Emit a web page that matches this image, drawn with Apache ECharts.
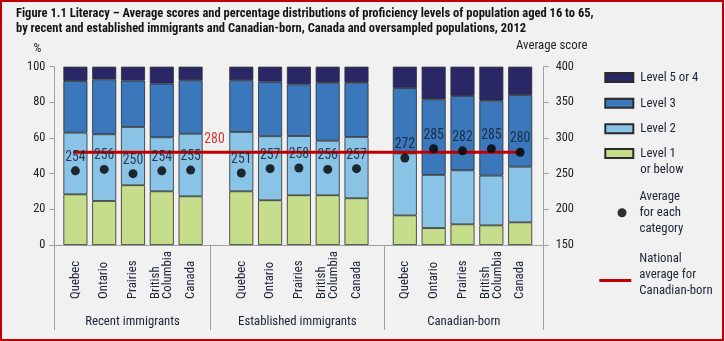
<!DOCTYPE html>
<html>
<head>
<meta charset="utf-8">
<script src="https://cdn.jsdelivr.net/npm/echarts@6/dist/echarts.min.js"></script>
<style>
  html, body { margin: 0; padding: 0; background: #f1f1f1; }
  #chart { position: absolute; left: 0; top: 0; width: 725px; height: 341px; }
  #frame { position: absolute; left: 0; top: 0; width: 720px; height: 337px; border: 2px solid #c00000; pointer-events: none; }
</style>
</head>
<body>
<div id="chart"></div>
<div id="frame"></div>
<script>
// ---------------- DATA ----------------
const titleLines = [
  'Figure 1.1 Literacy \u2013 Average scores and percentage distributions of proficiency levels of population aged 16 to 65,',
  'by recent and established immigrants and Canadian-born, Canada and oversampled populations, 2012'
];
const groups = ['Recent immigrants', 'Established immigrants', 'Canadian-born'];
const categories = ['Quebec', 'Ontario', 'Prairies', 'British\nColumbia', 'Canada'];
const levelNames = ['Level 1 or below', 'Level 2', 'Level 3', 'Level 5 or 4'];

// percentages per group (Recent, Established, Canadian-born), per category
const level1 = [
  [28.4, 24.7, 33.5, 30.1, 27.3],
  [30.1, 25.1, 27.9, 27.9, 26.2],
  [16.6, 9.5, 11.6, 11.0, 12.7]
];
const level2 = [
  [34.6, 37.4, 32.7, 30.3, 35.1],
  [33.3, 35.9, 33.2, 30.6, 34.4],
  [34.8, 29.8, 30.3, 27.9, 31.2]
];
const level3 = [
  [29.0, 30.8, 26.0, 30.1, 30.0],
  [29.0, 30.6, 29.0, 32.5, 30.4],
  [36.6, 42.4, 41.7, 42.0, 40.2]
];
const level45 = [
  [8.0, 7.1, 7.8, 9.5, 7.6],
  [7.6, 8.4, 9.9, 9.0, 9.0],
  [12.0, 18.3, 16.4, 19.1, 15.9]
];
const avgScores = [
  [254, 256, 250, 254, 255],
  [251, 257, 258, 256, 257],
  [272, 285, 282, 285, 280]
];
const nationalAvg = 280;
const avgName = 'Average for each category';
const natName = 'National average for Canadian-born';

// ---------------- FONT PICK ----------------
const ctx = document.createElement('canvas').getContext('2d');
function textW(font, s) { ctx.font = font; return ctx.measureText(s).width; }
function pickFamily() {
  const cands = ["'Liberation Sans Narrow'", "'DejaVu Sans Condensed'", "'Noto Sans Condensed'",
    "'Roboto Condensed'", "'Open Sans Condensed'", "'Nimbus Sans Narrow'", "'Arial Narrow'"];
  const ref = textW("13px 'Liberation Sans'", 'Level 5 or 4 Average score');
  for (const f of cands) {
    const a = textW('13px ' + f + ', monospace', 'Level 5 or 4 Average score');
    const b = textW('13px ' + f + ', serif', 'Level 5 or 4 Average score');
    if (Math.abs(a - b) < 0.5 && a < ref * 0.93) return f + ", 'Liberation Sans', sans-serif";
  }
  return "'Liberation Sans', Arial, sans-serif";
}
const FONT = pickFamily();
// scale so that "Level 5 or 4" is about 56px wide (as in the reference)
const SC = Math.min(1, 56 / textW('13px ' + FONT, 'Level 5 or 4'));
const fs = n => +(n * SC).toFixed(2);
const TITLE_FS = +Math.min(13, 13 * 578 / textW('bold 13px ' + FONT, titleLines[0])).toFixed(2);

// ---------------- STYLE / LAYOUT ----------------
const colors = ['#c6dd8b', '#89c3e6', '#3b77bb', '#2a2766'];
const PLOT_TOP = 66.7, PLOT_H = 178.3;
const labelGrids = [
  { left: 54.3, width: 156.4 },
  { left: 210.7, width: 173.3 },
  { left: 384.0, width: 159.7 }
];
const barGrids = [
  { left: 61.0, width: 144.0 },
  { left: 226.9, width: 144.0 },
  { left: 390.4, width: 144.2 }
];
const overlayGrid = { left: 73.5, width: 447 };
const axisGray = '#a0a0a0';
const textCol = '#1c2333';

const chart = echarts.init(document.getElementById('chart'), null, { renderer: 'canvas' });

const grid = [], xAxis = [], yAxis = [], series = [];

// label (frame) grids 0..2
labelGrids.forEach((g, i) => {
  grid.push({ left: g.left, width: g.width, top: PLOT_TOP, height: PLOT_H });
  xAxis.push({
    type: 'category', gridIndex: i, data: [groups[i]],
    axisLine: { show: true, lineStyle: { color: axisGray, width: 1 } },
    axisTick: { show: true, length: 85, lineStyle: { color: axisGray, width: 1 } },
    axisLabel: { margin: 70, fontFamily: FONT, fontSize: fs(13.5), color: textCol },
    splitLine: { show: false }
  });
});
yAxis.push({
  type: 'value', gridIndex: 0, min: 0, max: 100, interval: 20, position: 'left',
  name: '%', nameLocation: 'end', nameGap: 12,
  nameTextStyle: { fontFamily: FONT, fontSize: fs(13), color: '#222', align: 'right', padding: [0, 13, 0, 0] },
  axisLine: { show: true, lineStyle: { color: axisGray } },
  axisTick: { show: true, length: 5, lineStyle: { color: axisGray } },
  axisLabel: { margin: 9, fontFamily: FONT, fontSize: fs(13), color: '#222' },
  splitLine: { show: false }
});
yAxis.push({
  type: 'value', gridIndex: 2, min: 150, max: 400, interval: 50, position: 'right',
  name: 'Average score', nameLocation: 'end', nameGap: 14,
  nameTextStyle: { fontFamily: FONT, fontSize: fs(13.5), color: '#222', align: 'center', padding: [0, 0, 0, 16] },
  axisLine: { show: true, lineStyle: { color: axisGray } },
  axisTick: { show: true, length: 5, lineStyle: { color: axisGray } },
  axisLabel: { margin: 12, fontFamily: FONT, fontSize: fs(13), color: '#222' },
  splitLine: { show: false }
});
yAxis.push({ type: 'value', gridIndex: 1, min: 0, max: 100, show: false });

// bar grids 3..5
barGrids.forEach((g, i) => {
  const gi = 3 + i;
  grid.push({ left: g.left, width: g.width, top: PLOT_TOP, height: PLOT_H });
  xAxis.push({
    type: 'category', gridIndex: gi, data: categories,
    axisLine: { show: false }, axisTick: { show: false },
    axisLabel: { interval: 0, rotate: 90, align: 'left', margin: 54, fontFamily: FONT, fontSize: fs(13.5), color: textCol, lineHeight: 12 }
  });
  const pctIdx = yAxis.length;
  yAxis.push({ type: 'value', gridIndex: gi, min: 0, max: 100, show: false });
  const scoreIdx = yAxis.length;
  yAxis.push({ type: 'value', gridIndex: gi, min: 150, max: 400, show: false });

  const levels = [level1[i], level2[i], level3[i], level45[i]];
  levels.forEach((vals, li) => {
    series.push({
      name: levelNames[li], type: 'bar', stack: 'g' + i,
      xAxisIndex: gi, yAxisIndex: pctIdx, data: vals, barWidth: 24,
      itemStyle: { color: colors[li], borderColor: '#2b2b2b', borderWidth: 0.8 },
      emphasis: { disabled: true }, z: 2
    });
  });
  series.push({
    name: avgName, type: 'scatter', xAxisIndex: gi, yAxisIndex: scoreIdx,
    data: avgScores[i], symbol: 'circle', symbolSize: 9,
    itemStyle: { color: '#000' }, z: 5,
    label: { show: true, position: 'top', distance: 2, formatter: p => p.value,
      fontFamily: FONT, fontSize: fs(14.5), color: '#141a2a' },
    emphasis: { disabled: true }
  });
});

// overlay grid for national average line (6)
grid.push({ left: overlayGrid.left, width: overlayGrid.width, top: PLOT_TOP, height: PLOT_H });
xAxis.push({ type: 'category', gridIndex: 6, data: ['start', 'end'], boundaryGap: false, show: false });
const natY = yAxis.length;
yAxis.push({ type: 'value', gridIndex: 6, min: 150, max: 400, show: false });
series.push({
  name: natName, type: 'line', xAxisIndex: 6, yAxisIndex: natY,
  data: [
    { value: nationalAvg, label: { show: true, position: 'top', distance: 5, offset: [141, 0],
      formatter: p => p.value, fontFamily: FONT, fontSize: fs(14.5), color: '#d03636' } },
    { value: nationalAvg }
  ],
  symbol: 'circle', symbolSize: 1, showSymbol: true,
  lineStyle: { color: '#c00000', width: 3 }, itemStyle: { color: '#c00000' },
  z: 4, emphasis: { disabled: true }
});

// legends
const legText = {
  fontFamily: FONT, fontSize: fs(13.5), color: textCol, lineHeight: 16,
  rich: {
    t: { fontFamily: FONT, fontSize: fs(13.5), color: textCol, lineHeight: 16 },
    s16: { fontSize: 4, lineHeight: 16 },
    s11: { fontSize: 4, lineHeight: 11 }
  }
};
function leg(name, label, left, top, w, h, icon, padLeft) {
  return {
    data: [{ name: name, icon: icon }], left: left, top: top, padding: 0,
    itemWidth: w, itemHeight: h, selectedMode: false,
    formatter: () => label,
    textStyle: Object.assign({}, legText, { padding: [0, 0, 0, padLeft] })
  };
}
const legend = [
  leg('Level 5 or 4', '{t|Level 5 or 4}', 604.3, 69.5, 28, 9, 'rect', 2),
  leg('Level 3', '{t|Level 3}', 604.3, 95.3, 28, 9, 'rect', 2),
  leg('Level 2', '{t|Level 2}', 604.3, 120.8, 28, 9, 'rect', 2),
  leg('Level 1 or below', '{s16| }\n{t|Level 1}\n{t|or below}', 604.3, 129.5, 28, 9, 'rect', 2),
  leg(avgName, '{t|Average}\n{t|for each}\n{t|category}', 617.5, 188.7, 9, 9, 'circle', 8),
  leg(natName, '{t|National}\n{t|average for}\n{t|Canadian-born}\n{s11| }', 599.3, 251, 32, 3, 'rect', 3)
];

chart.setOption({
  backgroundColor: '#f1f1f1',
  animation: false,
  title: {
    text: titleLines.join('\n'), left: 16, top: 6, padding: 0,
    textStyle: { fontFamily: FONT, fontSize: TITLE_FS, fontWeight: 'bold', color: '#141414', lineHeight: 15.5 }
  },
  legend: legend,
  grid: grid,
  xAxis: xAxis,
  yAxis: yAxis,
  series: series
});
</script>
</body>
</html>
